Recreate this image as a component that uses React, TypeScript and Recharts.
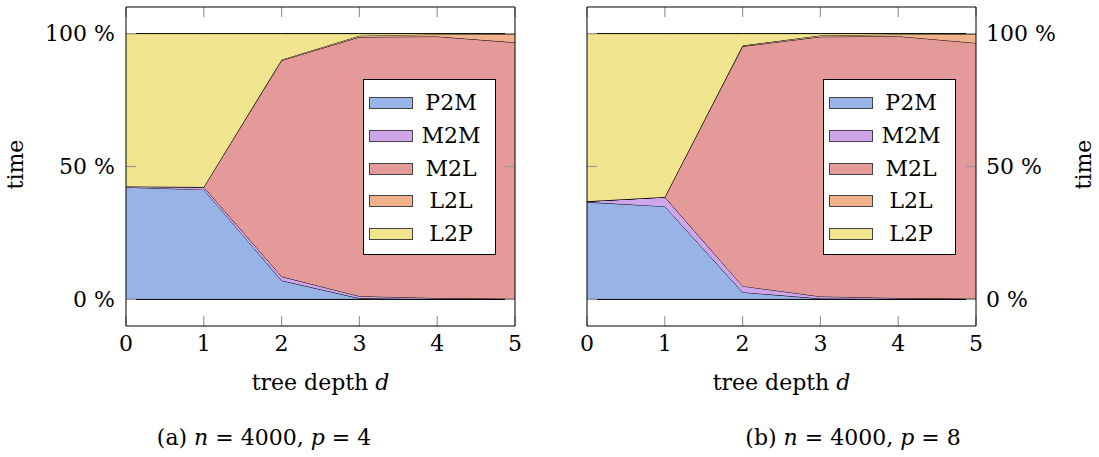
import React from 'react';
import { AreaChart, Area, XAxis, YAxis, ReferenceLine, Legend, CartesianGrid } from 'recharts';

const depths = [0, 1, 2, 3, 4, 5];
const seriesNames = ['P2M', 'M2M', 'M2L', 'L2L', 'L2P'];
const seriesColors = ['#98b3e6', '#cfa6e9', '#e59a9a', '#f2b08c', '#f0e48e'];
const xTicks = [0, 1, 2, 3, 4, 5];
const yTicks = [0, 50, 100];

// (a) n = 4000, p = 4  (percent of time)
const p4P2M = [42.2, 41.3, 7.1, 0.4, 0.1, 0.05];
const p4M2M = [0.3, 1.0, 1.5, 0.8, 0.4, 0.2];
const p4M2L = [0, 0, 81.3, 97.5, 98.4, 96.4];
const p4L2L = [0, 0, 0.3, 0.5, 0.8, 3.1];
const p4L2P = [57.5, 57.7, 9.8, 0.8, 0.3, 0.25];

// (b) n = 4000, p = 8
const p8P2M = [36.6, 35.0, 2.7, 0.3, 0.1, 0.05];
const p8M2M = [0.3, 3.5, 2.3, 0.8, 0.4, 0.2];
const p8M2L = [0, 0, 90.2, 97.7, 98.5, 96.2];
const p8L2L = [0, 0, 0.3, 0.5, 0.7, 3.3];
const p8L2P = [63.1, 61.5, 4.5, 0.7, 0.3, 0.25];

const FONT = "'DejaVu Serif', serif";
const FS = 22;

const X_MIN = 0;
const X_MAX = 5;
const Y_MIN = -10;
const Y_MAX = 110;
const PLOT_W = 389;
const PLOT_H = 319;
const TICK_PX = 10;
const TICK_DX = (TICK_PX * (X_MAX - X_MIN)) / PLOT_W;
const TICK_GREY = '#999999';

function buildData(cols: number[][]) {
  return depths.map((d, i) => {
    const row: any = { d };
    seriesNames.forEach((n, k) => {
      row[n] = cols[k][i];
    });
    return row;
  });
}

const dataA = buildData([p4P2M, p4M2M, p4M2L, p4L2L, p4L2P]);
const dataB = buildData([p8P2M, p8M2M, p8M2L, p8L2L, p8L2P]);

const LegendBox = () => (
  <div
    style={{
      width: 133,
      height: 176,
      boxSizing: 'border-box',
      border: '1px solid #000',
      background: '#fff',
      position: 'relative',
      fontFamily: FONT,
      fontSize: FS,
      color: '#000',
    }}
  >
    {seriesNames.map((n, i) => (
      <div
        key={n}
        style={{
          position: 'absolute',
          left: 0,
          top: 22.7 + i * 32.9 - 12,
          height: 24,
          width: 131,
        }}
      >
        <div
          style={{
            position: 'absolute',
            left: 5,
            top: 6,
            width: 44,
            height: 12,
            boxSizing: 'border-box',
            border: '1px solid #444',
            background: seriesColors[i],
          }}
        />
        <div
          style={{
            position: 'absolute',
            left: 50,
            width: 74,
            top: 0,
            height: 24,
            lineHeight: '24px',
            textAlign: 'center',
          }}
        >
          {n}
        </div>
      </div>
    ))}
  </div>
);

function makeXLabel(captionDx: number, letter: string, p: string) {
  return (props: any) => {
    const vb = props.viewBox || { x: 0, y: 0, width: 0, height: 0 };
    const cx = vb.x + vb.width / 2;
    return (
      <g>
        <text x={cx} y={vb.y + 64} textAnchor="middle" fontFamily={FONT} fontSize={FS} fill="#000">
          tree depth <tspan fontStyle="italic">d</tspan>
        </text>
        <text x={cx + captionDx} y={vb.y + 119} textAnchor="middle" fontFamily={FONT} fontSize={FS} fill="#000">
          ({letter}) <tspan fontStyle="italic">n</tspan> = 4000, <tspan fontStyle="italic">p</tspan> = {p}
        </text>
      </g>
    );
  };
}

function makeYLabel(side: 'left' | 'right') {
  return (props: any) => {
    const vb = props.viewBox || { x: 0, y: 0, width: 0, height: 0 };
    const cx = side === 'left' ? vb.x - 31 : vb.x + 107;
    const cy = vb.y + vb.height / 2 - 2;
    return (
      <text
        x={cx}
        y={cy}
        transform={`rotate(-90 ${cx} ${cy})`}
        textAnchor="middle"
        dominantBaseline="central"
        fontFamily={FONT}
        fontSize={FS}
        fill="#000"
      >
        time
      </text>
    );
  };
}

type PanelProps = {
  data: any[];
  side: 'left' | 'right';
  left: number;
  width: number;
  margin: { top: number; right: number; bottom: number; left: number };
  captionDx: number;
  letter: string;
  p: string;
};

const empty = () => '';

function Panel({ data, side, left, width, margin, captionDx, letter, p }: PanelProps) {
  const XLabel = makeXLabel(captionDx, letter, p);
  const YLabel = makeYLabel(side);
  const yId = side === 'left' ? 'l' : 'r';
  const tickProps = { yAxisId: yId, stroke: TICK_GREY, strokeWidth: 1.2, ifOverflow: 'visible' as const };
  return (
    <div style={{ position: 'absolute', left, top: 0 }}>
      <AreaChart width={width} height={457} data={data} margin={margin}>
        {/* inward x tick marks at top and bottom, drawn as dashed vertical grid lines */}
        <CartesianGrid
          yAxisId={yId}
          horizontal={false}
          vertical
          stroke={TICK_GREY}
          strokeWidth={1.2}
          strokeDasharray={`${TICK_PX} ${PLOT_H - 2 * TICK_PX}`}
          fill="none"
        />
        <XAxis
          dataKey="d"
          type="number"
          domain={[X_MIN, X_MAX]}
          ticks={xTicks}
          height={60}
          tickSize={0}
          tickMargin={9}
          tickLine={false}
          axisLine={{ stroke: '#000', strokeWidth: 1 }}
          tick={{ fill: '#000', fontSize: FS, fontFamily: FONT }}
          label={<XLabel />}
        />
        <XAxis
          xAxisId="top"
          orientation="top"
          type="number"
          domain={[X_MIN, X_MAX]}
          allowDataOverflow
          ticks={xTicks}
          height={1}
          tickSize={0}
          tick={false}
          tickLine={false}
          axisLine={{ stroke: '#000', strokeWidth: 1 }}
        />
        <YAxis
          yAxisId="l"
          orientation="left"
          type="number"
          domain={[Y_MIN, Y_MAX]}
          allowDataOverflow
          ticks={yTicks}
          width={side === 'left' ? 80 : 10}
          tickSize={0}
          tickMargin={11}
          tickFormatter={side === 'left' ? (v: number) => `${v} %` : empty}
          tickLine={false}
          axisLine={{ stroke: '#000', strokeWidth: 1 }}
          tick={{ fill: '#000', fontSize: FS, fontFamily: FONT }}
          label={side === 'left' ? <YLabel /> : undefined}
        />
        <YAxis
          yAxisId="r"
          orientation="right"
          type="number"
          domain={[Y_MIN, Y_MAX]}
          allowDataOverflow
          ticks={yTicks}
          width={side === 'right' ? 80 : 10}
          tickSize={0}
          tickMargin={10}
          tickFormatter={side === 'right' ? (v: number) => `${v} %` : empty}
          tickLine={false}
          axisLine={{ stroke: '#000', strokeWidth: 1 }}
          tick={{ fill: '#000', fontSize: FS, fontFamily: FONT, textAnchor: 'start' }}
          label={side === 'right' ? <YLabel /> : undefined}
        />
        {seriesNames.map((n, i) => (
          <Area
            key={n}
            yAxisId={yId}
            dataKey={n}
            stackId="s"
            type="linear"
            stroke="#000"
            strokeWidth={1}
            fill={seriesColors[i]}
            fillOpacity={1}
            dot={false}
            activeDot={false}
            isAnimationActive={false}
          />
        ))}
        <ReferenceLine yAxisId={yId} y={0} stroke="#000" strokeWidth={1} />
        {/* inward y tick marks (pgfplots style) */}
        {yTicks.map((v) => (
          <ReferenceLine
            key={`l${v}`}
            {...tickProps}
            segment={[
              { x: X_MIN, y: v },
              { x: X_MIN + TICK_DX, y: v },
            ]}
          />
        ))}
        {yTicks.map((v) => (
          <ReferenceLine
            key={`r${v}`}
            {...tickProps}
            segment={[
              { x: X_MAX - TICK_DX, y: v },
              { x: X_MAX, y: v },
            ]}
          />
        ))}
        <Legend
          layout="horizontal"
          verticalAlign="middle"
          align="center"
          content={() => <LegendBox />}
          wrapperStyle={{
            position: 'absolute',
            left: side === 'left' ? 363 : 823 - left,
            top: 79,
            width: 133,
            height: 176,
          }}
        />
      </AreaChart>
    </div>
  );
}

export default function App() {
  return (
    <div
      style={{
        position: 'absolute',
        left: 0,
        top: 0,
        width: 1099,
        height: 457,
        background: '#fff',
        overflow: 'hidden',
      }}
    >
      <Panel
        data={dataA}
        side="left"
        left={0}
        width={549}
        margin={{ top: 6, right: 24, bottom: 71, left: 46 }}
        captionDx={-56.5}
        letter="a"
        p="4"
      />
      <Panel
        data={dataB}
        side="right"
        left={549}
        width={550}
        margin={{ top: 6, right: 43, bottom: 71, left: 28 }}
        captionDx={71.5}
        letter="b"
        p="8"
      />
    </div>
  );
}
